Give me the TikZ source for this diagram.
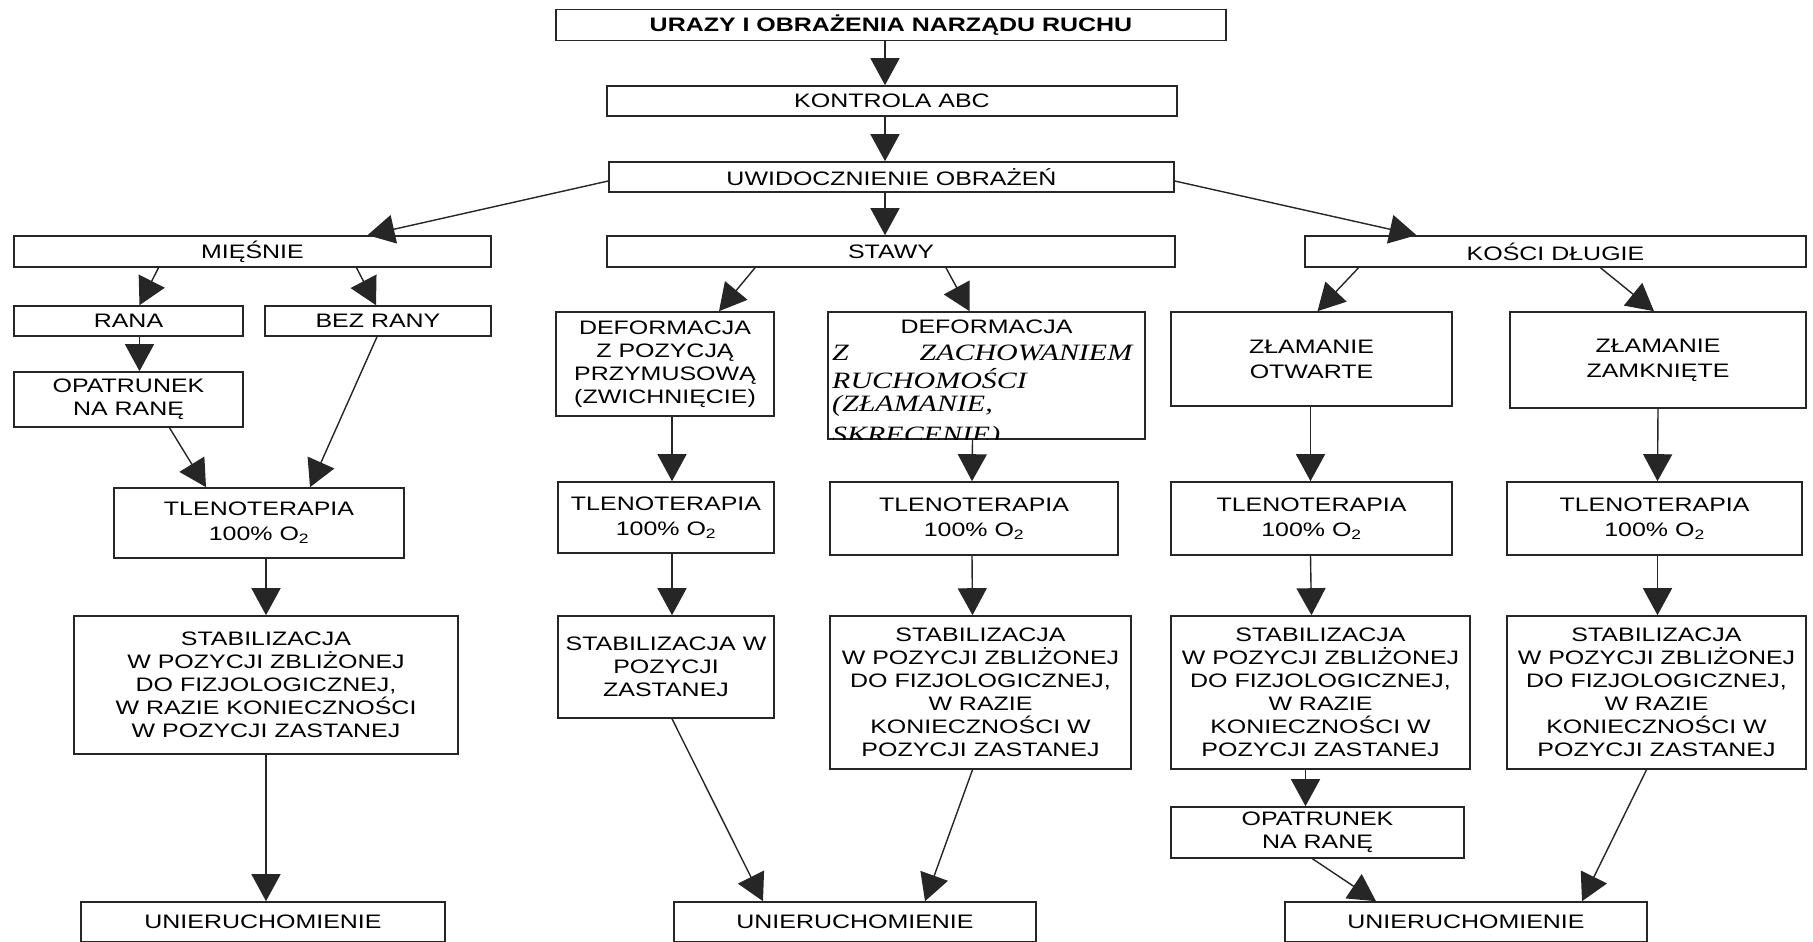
\documentclass[tikz,border=0pt]{standalone}
\usepackage{fontspec}
\setmainfont{Liberation Sans}[FakeStretch=1.28]
\newfontfamily\serifit{Liberation Serif}[FakeStretch=1.28]
\usetikzlibrary{arrows.meta}
\tikzset{
  box/.style={draw=black!85, line width=1.6pt, inner sep=0pt, align=center,
    font=\fontsize{19.5}{23}\selectfont, text=black},
  wide/.style={font=\fontsize{19.5}{25}\selectfont},
  plain/.style={inner sep=0pt, align=center, font=\fontsize{19.5}{23}\selectfont, text=black},
  itl/.style={inner sep=0pt, anchor=west, font=\serifit\itshape\fontsize{23.4}{26}\selectfont, text=black},
  arr/.style={-{Triangle[width=29pt,length=27pt]}, line width=1.4pt, draw=black!85, fill=black},
}
\begin{document}
\begin{tikzpicture}[x=1pt,y=-1pt]
\useasboundingbox (0,0) rectangle (1813,942);
% level 1-3
\node[box, font=\fontsize{19.5}{23}\selectfont\bfseries, minimum width=670pt, minimum height=31pt] (top) at (891,25) {URAZY I OBRAŻENIA NARZĄDU RUCHU};
\node[box, minimum width=570pt, minimum height=30pt] (kon) at (892,101) {KONTROLA ABC};
\node[box, minimum width=565pt, minimum height=30pt] (uwid) at (891.5,177) {UWIDOCZNIENIE OBRAŻEŃ};
% categories
\node[box, minimum width=477pt, minimum height=31pt] (mie) at (252.5,251.5) {MIĘŚNIE};
\node[box, minimum width=568pt, minimum height=31pt] (stawy) at (891,251.5) {STAWY};
\node[box, minimum width=501pt, minimum height=31pt] (kosci) at (1555.5,251.5) {KOŚCI DŁUGIE};
% muscles
\node[box, minimum width=229pt, minimum height=30pt] (rana) at (128.5,321) {RANA};
\node[box, minimum width=226pt, minimum height=30pt] (bez) at (378,321) {BEZ RANY};
\node[box, minimum width=229pt, minimum height=55pt] (opl) at (128.5,399.5) {OPATRUNEK\\NA RANĘ};
\node[box, wide, minimum width=290pt, minimum height=70pt] (tl) at (259,523) {TLENOTERAPIA\\100\% O\textsubscript{2}};
\node[box, minimum width=384pt, minimum height=138pt] (stl) at (266,685) {STABILIZACJA\\W POZYCJI ZBLIŻONEJ\\DO FIZJOLOGICZNEJ,\\W RAZIE KONIECZNOŚCI\\W POZYCJI ZASTANEJ};
\node[box, minimum width=364pt, minimum height=40pt] (ul) at (263,922) {UNIERUCHOMIENIE};
% joints
\node[box, minimum width=218pt, minimum height=104pt] (d1) at (665,364) {DEFORMACJA\\Z POZYCJĄ\\PRZYMUSOWĄ\\(ZWICHNIĘCIE)};
\node[box, minimum width=317pt, minimum height=127pt] (d2) at (986.5,375.5) {};
\begin{scope}
\clip (d2.south west) rectangle (d2.north east);
\node[plain] (d2a) at (986.5,327) {DEFORMACJA};
\node[itl] (d2b) at (832,353) {\makebox[300pt][s]{Z\hfill ZACHOWANIEM}};
\node[itl] (d2c) at (832,379) {RUCHOMOŚCI};
\node[itl] (d2d) at (832,406) {(ZŁAMANIE,};
\node[itl] (d2e) at (832,437) {SKRĘCENIE)};
\end{scope}
\node[box, wide, minimum width=216pt, minimum height=71pt] (t1) at (666,517.5) {TLENOTERAPIA\\100\% O\textsubscript{2}};
\node[box, wide, minimum width=288pt, minimum height=73pt] (t2) at (974,518.5) {TLENOTERAPIA\\100\% O\textsubscript{2}};
\node[box, minimum width=216pt, minimum height=102pt] (s1) at (666,667) {STABILIZACJA W\\POZYCJI\\ZASTANEJ};
\node[box, minimum width=301pt, minimum height=153pt] (s2) at (980.5,692.5) {STABILIZACJA\\W POZYCJI ZBLIŻONEJ\\DO FIZJOLOGICZNEJ,\\W RAZIE\\KONIECZNOŚCI W\\POZYCJI ZASTANEJ};
\node[box, minimum width=362pt, minimum height=40pt] (um) at (855,922) {UNIERUCHOMIENIE};
% long bones
\node[box, wide, minimum width=281pt, minimum height=94pt] (zo) at (1311.5,359) {ZŁAMANIE\\OTWARTE};
\node[box, wide, minimum width=296pt, minimum height=96pt] (zz) at (1658,360) {ZŁAMANIE\\ZAMKNIĘTE};
\node[box, wide, minimum width=281pt, minimum height=73pt] (tk1) at (1311.5,518.5) {TLENOTERAPIA\\100\% O\textsubscript{2}};
\node[box, wide, minimum width=295pt, minimum height=73pt] (tk2) at (1654.5,518.5) {TLENOTERAPIA\\100\% O\textsubscript{2}};
\node[box, minimum width=299pt, minimum height=153pt] (sk1) at (1320.5,692.5) {STABILIZACJA\\W POZYCJI ZBLIŻONEJ\\DO FIZJOLOGICZNEJ,\\W RAZIE\\KONIECZNOŚCI W\\POZYCJI ZASTANEJ};
\node[box, minimum width=299pt, minimum height=153pt] (sk2) at (1656.5,692.5) {STABILIZACJA\\W POZYCJI ZBLIŻONEJ\\DO FIZJOLOGICZNEJ,\\W RAZIE\\KONIECZNOŚCI W\\POZYCJI ZASTANEJ};
\node[box, minimum width=293pt, minimum height=51pt] (ok) at (1317.5,832.5) {OPATRUNEK\\NA RANĘ};
\node[box, minimum width=362pt, minimum height=40pt] (ur) at (1466,922) {UNIERUCHOMIENIE};
% connectors
\draw[arr] ([xshift=-6pt]top.south) -- ([xshift=-7pt]kon.north);
\draw[arr] ([xshift=-7pt]kon.south) -- ([xshift=-6.5pt]uwid.north);
\draw[arr] ([yshift=-4pt]uwid.west) -- ([xshift=115pt]mie.north);
\draw[arr] ([xshift=-6.5pt]uwid.south) -- ([xshift=-6pt]stawy.north);
\draw[arr] ([yshift=-4pt]uwid.east) -- ([xshift=-139pt]kosci.north);
\draw[arr] ([xshift=-94pt]mie.south) -- ([xshift=11pt]rana.north);
\draw[arr] ([xshift=104pt]mie.south) -- ([xshift=-2pt]bez.north);
\draw[arr] ([xshift=11pt]rana.south) -- ([xshift=11pt]opl.north);
\draw[arr] ([xshift=41pt]opl.south) -- ([xshift=-53pt]tl.north);
\draw[arr] ([xshift=-1pt]bez.south) -- ([xshift=51pt]tl.north);
\draw[arr] ([xshift=7pt]tl.south) -- (stl.north);
\draw[arr] (stl.south) -- ([xshift=3pt]ul.north);
\draw[arr] ([xshift=-136pt]stawy.south) -- ([xshift=54pt]d1.north);
\draw[arr] ([xshift=55pt]stawy.south) -- ([xshift=-17pt]d2.north);
\draw[arr] ([xshift=7pt]d1.south) -- ([xshift=6pt]t1.north);
\draw[arr] ([xshift=-14pt]d2.south) -- ([xshift=-2pt]t2.north);
\draw[arr] ([xshift=6pt]t1.south) -- ([xshift=6pt]s1.north);
\draw[arr] ([xshift=-2pt]t2.south) -- ([xshift=-8pt]s2.north);
\draw[arr] ([xshift=6pt]s1.south) -- ([xshift=-92pt]um.north);
\draw[arr] ([xshift=-8pt]s2.south) -- ([xshift=70pt]um.north);
\draw[arr] ([xshift=-197pt]kosci.south) -- ([xshift=6pt]zo.north);
\draw[arr] ([xshift=45pt]kosci.south) -- ([xshift=-4pt]zz.north);
\draw[arr] ([xshift=-1pt]zo.south) -- ([xshift=-1pt]tk1.north);
\draw[arr] (zz.south) -- ([xshift=3pt]tk2.north);
\draw[arr] ([xshift=-1pt]tk1.south) -- ([xshift=-9pt]sk1.north);
\draw[arr] ([xshift=3pt]tk2.south) -- ([xshift=1pt]sk2.north);
\draw[arr] ([xshift=-15pt]sk1.south) -- ([xshift=-12pt]ok.north);
\draw[arr] ([xshift=-5pt]ok.south) -- ([xshift=-90pt]ur.north);
\draw[arr] ([xshift=-10pt]sk2.south) -- ([xshift=116pt]ur.north);
\end{tikzpicture}
\end{document}
